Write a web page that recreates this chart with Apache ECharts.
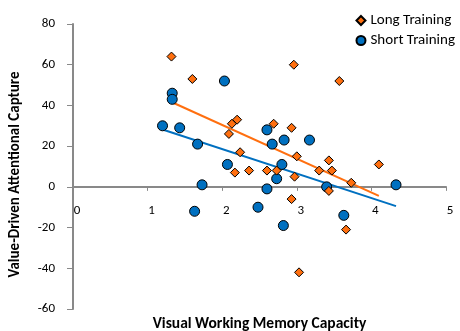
<!DOCTYPE html>
<html>
<head>
<meta charset="utf-8">
<script src="https://cdn.jsdelivr.net/npm/echarts@6/dist/echarts.min.js"></script>
<style>
  html, body { margin: 0; padding: 0; background: #fff; }
  #chart { width: 460px; height: 331px; }
</style>
</head>
<body>
<div id="chart"></div>
<script>
// values
var longX = [1.32, 1.60, 2.09, 2.13, 2.20, 2.24, 2.17, 2.36, 2.60, 2.73, 2.69, 2.93, 2.96, 3.00, 2.97, 2.93, 3.03, 3.30, 3.43, 3.47, 3.43, 3.57, 3.66, 3.73, 4.10];
var longY = [64, 53, 26, 31, 33, 17, 7, 8, 8, 8, 31, 29, 60, 15, 5, -6, -42, 8, 13, 8, -2, 52, -21, 2, 11];
var shortX = [1.20, 1.33, 1.33, 1.43, 1.67, 1.73, 1.63, 2.03, 2.07, 2.48, 2.60, 2.67, 2.83, 3.17, 2.80, 2.73, 2.60, 2.82, 3.40, 3.63, 4.33];
var shortY = [30, 46, 43, 29, 21, 1, -12, 52, 11, -10, 28, 21, 23, 23, 11, 4, -1, -19, 0, -14, 1];
var seriesNames = ['Long Training', 'Short Training'];

var yMin = -60, yMax = 80;
var orange = '#FF6F0F';
var blue = '#0070C0';
var font = 'Carlito, Calibri, Lato, sans-serif';

var gridTop = 24, gridBottom = 22, chartH = 331;

function pairs(xs, ys) {
    var out = [];
    for (var i = 0; i < xs.length; i++) out.push([xs[i], ys[i]]);
    return out;
}

// linear trend line (least squares), from min x to max x
function trend(xs, ys) {
    var n = xs.length, mx = 0, my = 0;
    for (var i = 0; i < n; i++) { mx += xs[i]; my += ys[i]; }
    mx /= n; my /= n;
    var sxy = 0, sxx = 0;
    for (var j = 0; j < n; j++) {
        sxy += (xs[j] - mx) * (ys[j] - my);
        sxx += (xs[j] - mx) * (xs[j] - mx);
    }
    var b = sxy / sxx, a = my - b * mx;
    var lo = Math.min.apply(null, xs), hi = Math.max.apply(null, xs);
    return [[lo, a + b * lo], [hi, a + b * hi]];
}

// x axis sits on y = 0 (labels too), so lift the bottom axis up to there
var plotH = chartH - gridTop - gridBottom;
var zeroLift = -plotH * (0 - yMin) / (yMax - yMin);

var myChart = echarts.init(document.getElementById('chart'));
option = {
    backgroundColor: '#fff',
    animation: false,
    textStyle: { fontFamily: font },
    grid: { left: 73, right: 14, top: gridTop, bottom: gridBottom, containLabel: false, outerBoundsMode: 'none' },
    legend: {
        data: [
            { name: seriesNames[0], icon: 'diamond' },
            { name: seriesNames[1], icon: 'circle' }
        ],
        orient: 'vertical',
        right: 0,
        top: 8,
        itemWidth: 9,
        itemHeight: 9,
        itemGap: 5,
        textStyle: { fontSize: 15, color: '#000', fontFamily: font }
    },
    xAxis: {
        type: 'value',
        min: 0,
        max: 5,
        interval: 1,
        position: 'bottom',
        offset: zeroLift,
        name: 'Visual Working Memory Capacity',
        nameLocation: 'middle',
        nameGap: 129,
        nameTextStyle: { fontSize: 15.5, fontWeight: 'bold', color: '#000', fontFamily: font },
        axisLine: { onZero: false, lineStyle: { color: '#898989', width: 2 } },
        axisTick: { show: true, length: 4, lineStyle: { color: '#898989', width: 1 } },
        axisLabel: { margin: 17, fontSize: 13, color: '#000', padding: [0, 0, 0, 8] },
        splitLine: { show: false }
    },
    yAxis: {
        type: 'value',
        min: yMin,
        max: yMax,
        interval: 20,
        name: 'Value-Driven Attentional Capture',
        nameLocation: 'middle',
        nameGap: 50,
        nameTextStyle: { fontSize: 15, fontWeight: 'bold', color: '#000', fontFamily: font, padding: [0, 16, 0, 0] },
        axisLine: { onZero: false, lineStyle: { color: '#898989', width: 2 } },
        axisTick: { show: true, length: 6, lineStyle: { color: '#898989', width: 1 } },
        axisLabel: { margin: 18, fontSize: 13, color: '#000' },
        splitLine: { show: false }
    },
    series: [
        {
            name: seriesNames[0],
            type: 'scatter',
            symbol: 'diamond',
            symbolSize: 9,
            z: 4,
            itemStyle: { color: orange, borderColor: '#000', borderWidth: 1, opacity: 1 },
            data: pairs(longX, longY)
        },
        {
            name: seriesNames[1],
            type: 'scatter',
            symbol: 'circle',
            symbolSize: 10,
            z: 3,
            itemStyle: { color: blue, borderColor: '#000', borderWidth: 1, opacity: 1 },
            data: pairs(shortX, shortY)
        },
        {
            name: 'Long trend',
            type: 'line',
            showSymbol: false,
            symbol: 'none',
            z: 2,
            silent: true,
            lineStyle: { color: orange, width: 2 },
            data: trend(longX, longY)
        },
        {
            name: 'Short trend',
            type: 'line',
            showSymbol: false,
            symbol: 'none',
            z: 2,
            silent: true,
            lineStyle: { color: blue, width: 2 },
            data: trend(shortX, shortY)
        }
    ]
};

myChart.setOption(option);
</script>
</body>
</html>
